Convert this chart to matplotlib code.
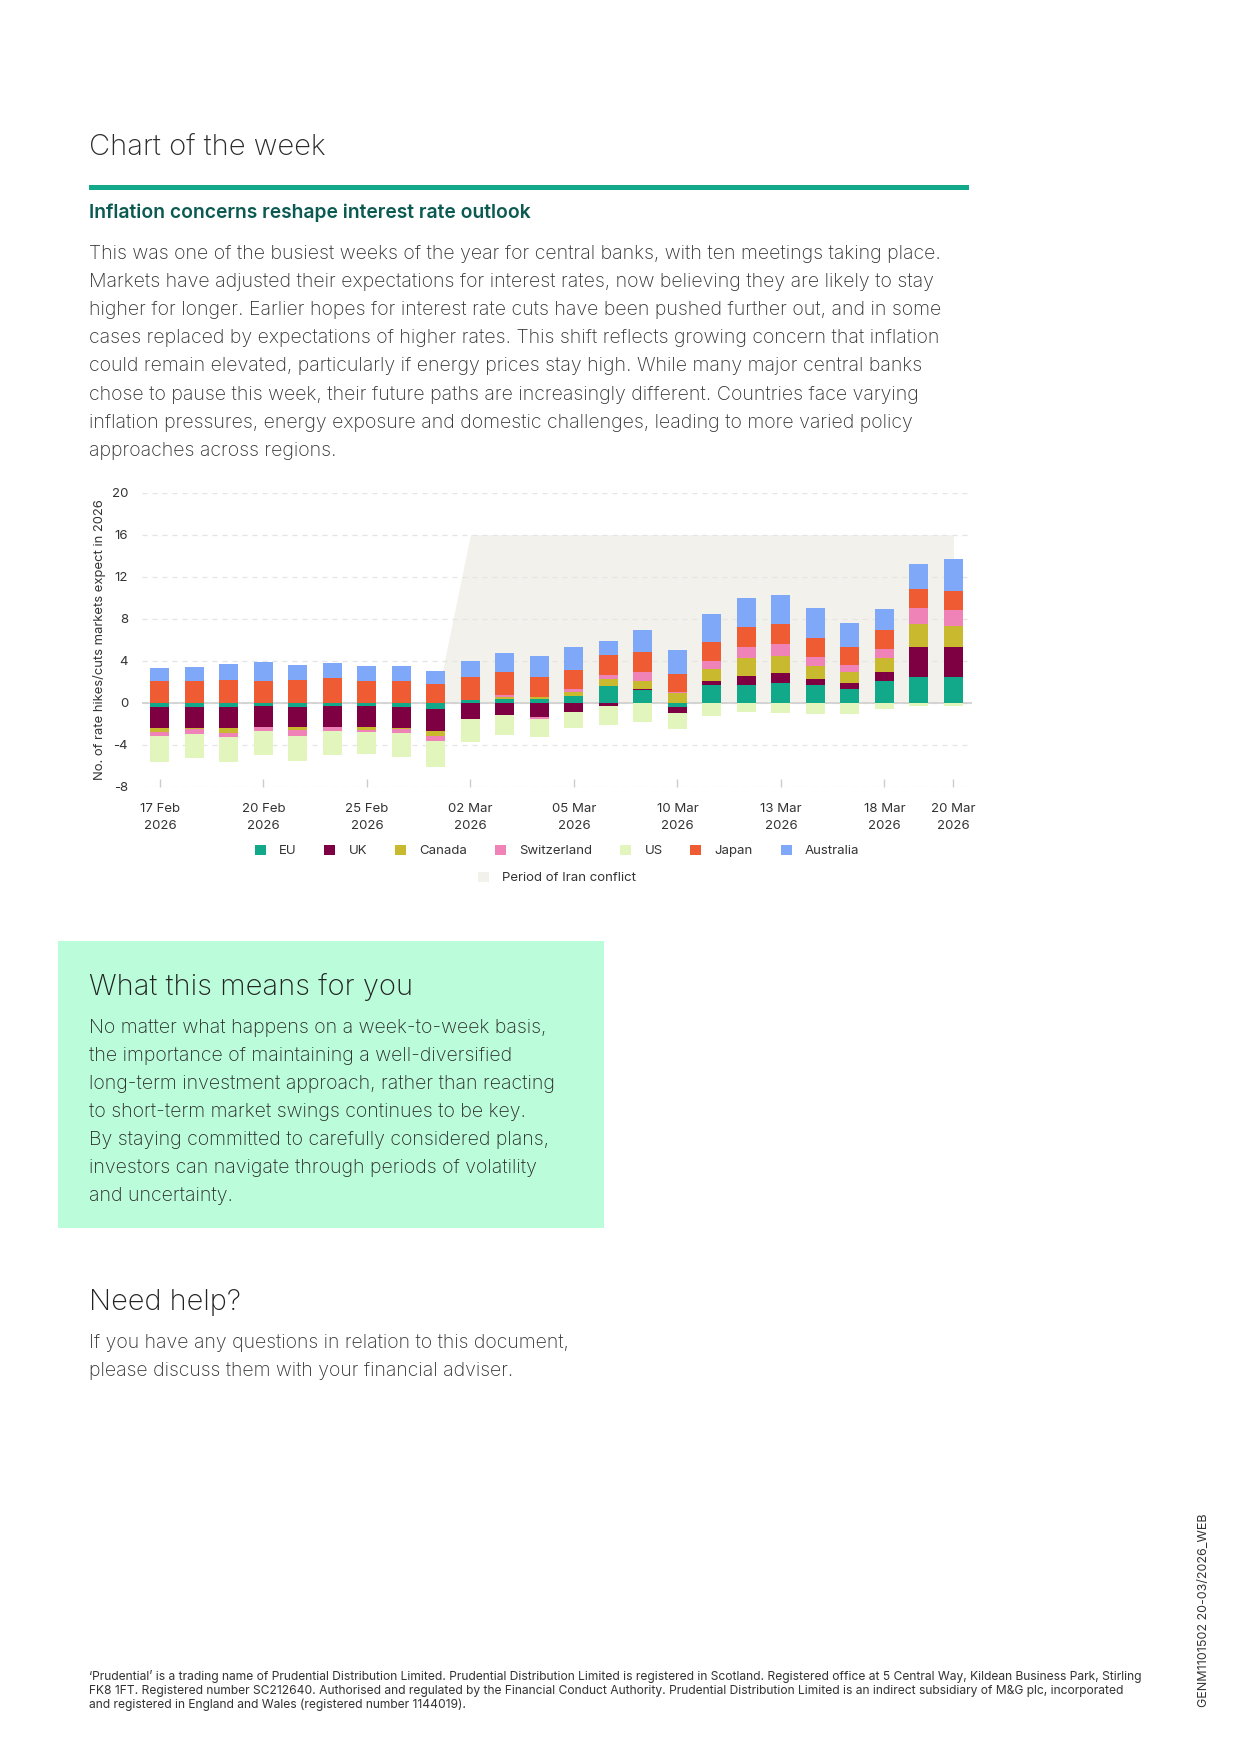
import matplotlib
matplotlib.use("Agg")
import matplotlib.pyplot as plt
import numpy as np
from matplotlib.patches import Patch, Rectangle

plt.rcParams['font.family'] = ['Inter', 'DejaVu Sans']
plt.rcParams['axes.unicode_minus'] = False

# trading days shown as bars
days = ['17 Feb', '18 Feb', '19 Feb', '20 Feb', '23 Feb', '24 Feb', '25 Feb', '26 Feb',
        '27 Feb', '02 Mar', '03 Mar', '04 Mar', '05 Mar', '06 Mar', '09 Mar', '10 Mar',
        '11 Mar', '12 Mar', '13 Mar', '16 Mar', '17 Mar', '18 Mar', '19 Mar', '20 Mar']
tick_days = ['17 Feb', '20 Feb', '25 Feb', '02 Mar', '05 Mar', '10 Mar', '13 Mar', '18 Mar', '20 Mar']

# expected hikes (+) / cuts (-) in 2026 per central bank
eu = [-0.44, -0.41, -0.41, -0.35, -0.41, -0.35, -0.35, -0.41, -0.60, 0.22, 0.38, 0.35,
      0.63, 1.59, 1.24, -0.38, 1.68, 1.68, 1.90, 1.65, 1.30, 2.10, 2.44, 2.44]
uk = [-1.97, -1.97, -2.03, -1.97, -1.94, -1.94, -1.94, -2.03, -2.10, -1.59, -1.21, -1.40,
      -0.92, -0.32, 0.06, -0.57, 0.35, 0.83, 0.96, 0.64, 0.57, 0.86, 2.86, 2.86]
canada = [-0.38, -0.16, -0.45, 0.0, -0.29, -0.06, -0.35, -0.10, -0.47, 0.0, 0.12, 0.22,
          0.38, 0.66, 0.80, 0.89, 1.14, 1.71, 1.62, 1.24, 1.05, 1.30, 2.19, 1.97]
switzerland = [-0.38, -0.41, -0.38, -0.38, -0.54, -0.38, -0.19, -0.38, -0.51, 0.0, 0.22, -0.19,
               0.29, 0.35, 0.82, 0.10, 0.79, 1.08, 1.11, 0.79, 0.67, 0.86, 1.52, 1.52]
us = [-2.45, -2.29, -2.35, -2.25, -2.38, -2.22, -2.10, -2.22, -2.41, -2.13, -1.87, -1.71,
      -1.52, -1.81, -1.81, -1.59, -1.24, -0.86, -0.95, -1.11, -1.05, -0.63, -0.30, -0.30]
japan = [2.03, 2.10, 2.16, 2.03, 2.13, 2.32, 2.03, 2.03, 1.75, 2.26, 2.19, 1.91,
         1.84, 1.91, 1.87, 1.78, 1.84, 1.87, 1.87, 1.81, 1.71, 1.78, 1.81, 1.87]
australia = [1.24, 1.30, 1.52, 1.84, 1.43, 1.43, 1.43, 1.43, 1.30, 1.52, 1.87, 1.93,
             2.16, 1.33, 2.16, 2.22, 2.67, 2.83, 2.83, 2.89, 2.25, 2.03, 2.41, 3.02]

# shaded "Period of Iran conflict" area
iran_period = [0, 0, 0, 0, 0, 0, 0, 0, 0, 16, 16, 16, 16, 16, 16, 16, 16, 16, 16, 16, 16, 16, 16, 16]

series_names = ['EU', 'UK', 'Canada', 'Switzerland', 'US', 'Japan', 'Australia']
series_values = [eu, uk, canada, switzerland, us, japan, australia]
series_colors = ['#12a88a', '#7e0042', '#c9b92e', '#ef82b6', '#e2f5bc', '#ef5c33', '#80a8f9']

body_lines = [
    "This was one of the busiest weeks of the year for central banks, with ten meetings taking place.",
    "Markets have adjusted their expectations for interest rates, now believing they are likely to stay",
    "higher for longer. Earlier hopes for interest rate cuts have been pushed further out, and in some",
    "cases replaced by expectations of higher rates. This shift reflects growing concern that inflation",
    "could remain elevated, particularly if energy prices stay high. While many major central banks",
    "chose to pause this week, their future paths are increasingly different. Countries face varying",
    "inflation pressures, energy exposure and domestic challenges, leading to more varied policy",
    "approaches across regions.",
]
box_lines = [
    "No matter what happens on a week-to-week basis,",
    "the importance of maintaining a well-diversified",
    "long-term investment approach, rather than reacting",
    "to short-term market swings continues to be key.",
    "By staying committed to carefully considered plans,",
    "investors can navigate through periods of volatility",
    "and uncertainty.",
]
help_lines = [
    "If you have any questions in relation to this document,",
    "please discuss them with your financial adviser.",
]
footer_lines = [
    "\u2018Prudential\u2019 is a trading name of Prudential Distribution Limited. Prudential Distribution Limited is registered in Scotland. Registered office at 5 Central Way, Kildean Business Park, Stirling",
    "FK8 1FT. Registered number SC212640. Authorised and regulated by the Financial Conduct Authority. Prudential Distribution Limited is an indirect subsidiary of M&G plc, incorporated",
    "and registered in England and Wales (registered number 1144019).",
]

W, H = 1240, 1754


def fx(x):
    return x / W


def fy(y):
    return 1 - y / H


fig = plt.figure(figsize=(12.4, 17.54), dpi=100)
fig.patch.set_facecolor('white')

# HEADER
# ======
fig.text(fx(89), fy(155), "Chart of the week", fontsize=21, color='#2b2b2b',
         fontweight='light', va='baseline')
fig.add_artist(Rectangle((fx(89), fy(190)), fx(969) - fx(89), 5 / H,
                         transform=fig.transFigure, color='#12a88a', lw=0))
fig.text(fx(89), fy(218), "Inflation concerns reshape interest rate outlook", fontsize=13.9,
         color='#0b5a52', fontweight='semibold', va='baseline')
for i, line in enumerate(body_lines):
    fig.text(fx(89), fy(259 + 28.1 * i), line, fontsize=14.1, color='#333333',
             fontweight='light', va='baseline')

# CHART
# =====
ax = fig.add_axes([fx(142), fy(786.7), (972 - 142) / W, 294 / H])
x = np.arange(len(days))

ax.fill_between(x, 0, iran_period, color='#f3f1ec', lw=0, zorder=0.3)

pos_bottom = np.zeros(len(days))
neg_bottom = np.zeros(len(days))
for vals, color in zip(series_values, series_colors):
    vals = np.array(vals)
    bottoms = np.where(vals >= 0, pos_bottom, neg_bottom)
    ax.bar(x, vals, bottom=bottoms, width=0.55, color=color, lw=0, zorder=2)
    pos_bottom = pos_bottom + np.clip(vals, 0, None)
    neg_bottom = neg_bottom + np.clip(vals, None, 0)

ax.axhline(0, color='#cfcfcf', lw=1.2, zorder=1.5)
ax.set_ylim(-8, 20)
ax.set_xlim(-0.52, 23.54)
ax.set_yticks(range(-8, 21, 4))
ax.set_axisbelow(True)
ax.yaxis.grid(True, color='#e4e4e4', lw=0.9, linestyle=(0, (4, 4)))
for s in ax.spines.values():
    s.set_visible(False)

tick_pos = [days.index(d) for d in tick_days]
ax.set_xticks(tick_pos)
ax.set_xticklabels([d + "\n2026" for d in tick_days], linespacing=1.6)
ax.tick_params(axis='x', direction='in', length=6, color='#cccccc', width=1,
               labelsize=9.5, labelcolor='#333333', pad=11.5)
ax.tick_params(axis='y', length=0, labelsize=9.5, labelcolor='#333333', pad=10)
ax.set_ylabel("No. of rate hikes/cuts markets expect in 2026", fontsize=9.4,
              color='#333333', labelpad=4)

handles = [Patch(facecolor=c, label=n) for n, c in zip(series_names, series_colors)]
leg1 = fig.legend(handles=handles, loc='center', bbox_to_anchor=(fx(557), fy(851)),
                  ncol=7, frameon=False, fontsize=9.5, handlelength=0.85, handleheight=0.85,
                  handletextpad=1.0, columnspacing=2.1)
for t in leg1.get_texts():
    t.set_color('#333333')
leg2 = fig.legend(handles=[Patch(facecolor='#f3f1ec', label='Period of Iran conflict')],
                  loc='center', bbox_to_anchor=(fx(557), fy(878)), frameon=False,
                  fontsize=9.5, handlelength=0.85, handleheight=0.85, handletextpad=1.0)
for t in leg2.get_texts():
    t.set_color('#333333')

# WHAT THIS MEANS BOX
# ===================
fig.add_artist(Rectangle((fx(58), fy(1228)), fx(604) - fx(58), (1228 - 941) / H,
                         transform=fig.transFigure, color='#bbfcdb', lw=0, zorder=0))
fig.text(fx(89), fy(995), "What this means for you", fontsize=21, color='#222222',
         fontweight='light', va='baseline')
for i, line in enumerate(box_lines):
    fig.text(fx(89), fy(1033 + 27.95 * i), line, fontsize=14.1, color='#2a2a2a',
             fontweight='light', va='baseline')

fig.text(fx(89), fy(1310), "Need help?", fontsize=20.8, color='#222222',
         fontweight='light', va='baseline')
for i, line in enumerate(help_lines):
    fig.text(fx(89), fy(1348 + 28.3 * i), line, fontsize=14.0, color='#333333',
             fontweight='light', va='baseline')

# FOOTER
# ======
for i, line in enumerate(footer_lines):
    fig.text(fx(89), fy(1680 + 14 * i), line, fontsize=8.7, color='#333333', va='baseline')
fig.text(fx(1204), fy(1707), "GENM1101502 20-03/2026_WEB", fontsize=9.0, color='#333333',
         rotation=90, ha='center', va='bottom')

fig.savefig("out.png", dpi=100, facecolor='white')
plt.close()
